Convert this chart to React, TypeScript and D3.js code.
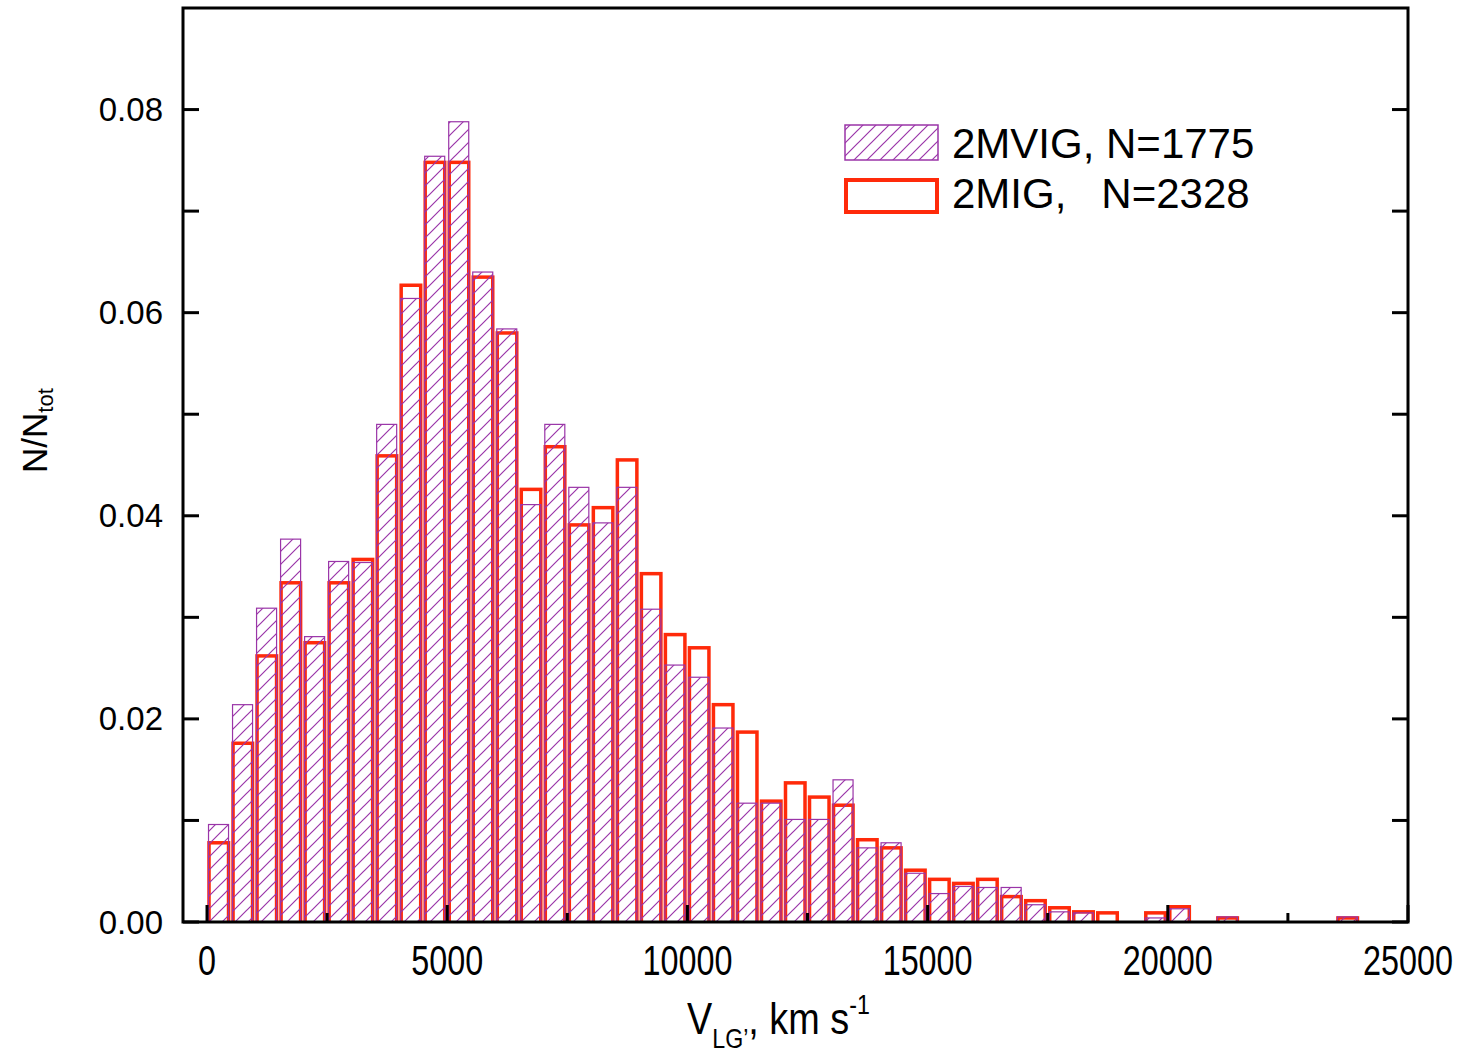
import React from 'react';
import * as d3 from 'd3';

// bin start velocities (km/s), bin width 500
const BIN_WIDTH = 500;
const binStarts = d3.range(0, 24000, 500);

// 2MVIG, N=1775 (hatched purple)
const mvig = [
  0.0096, 0.0214, 0.0309, 0.0377, 0.0281, 0.0355, 0.0354, 0.0490, 0.0614, 0.0754,
  0.0788, 0.0640, 0.0584, 0.0411, 0.0490, 0.0428, 0.0393, 0.0428, 0.0308, 0.0253,
  0.0241, 0.0191, 0.0117, 0.0117, 0.0101, 0.0101, 0.0140, 0.0073, 0.0078, 0.0048,
  0.0028, 0.0035, 0.0034, 0.0034, 0.0017, 0.0010, 0.0009, 0, 0, 0.0004,
  0.0013, 0, 0.0005, 0, 0, 0, 0, 0.0005,
];

// 2MIG, N=2328 (red open)
const mig = [
  0.0078, 0.0176, 0.0262, 0.0334, 0.0275, 0.0334, 0.0357, 0.0459, 0.0627, 0.0748,
  0.0748, 0.0635, 0.0580, 0.0426, 0.0468, 0.0391, 0.0408, 0.0455, 0.0343, 0.0283,
  0.0270, 0.0214, 0.0187, 0.0119, 0.0137, 0.0123, 0.0115, 0.0081, 0.0073, 0.0051,
  0.0042, 0.0038, 0.0042, 0.0025, 0.0021, 0.0014, 0.0010, 0.0009, 0, 0.0009,
  0.0015, 0, 0.0004, 0, 0, 0, 0, 0.0004,
];

const xMajorTicks = [0, 5000, 10000, 15000, 20000, 25000];
const xMinorTicks = [2500, 7500, 12500, 17500, 22500];
const yTicks = [0, 0.01, 0.02, 0.03, 0.04, 0.05, 0.06, 0.07, 0.08];
const yLabelTicks = [0, 0.02, 0.04, 0.06, 0.08];

const legendLabels = ['2MVIG, N=1775', '2MIG,   N=2328'];

const PURPLE = '#9a35a8';
const RED = '#ff2a0a';
const FONT = '"Liberation Sans", Arial, Helvetica, sans-serif';

export default function App() {
  const left = 183, right = 1408, top = 8, bottom = 922;
  const x = d3.scaleLinear().domain([-500, 25000]).range([left, right]);
  const y = d3.scaleLinear().domain([0, 0.09]).range([bottom, top]);
  const bw = x(BIN_WIDTH) - x(0);

  return (
    <div style={{ position: 'absolute', left: 0, top: 0 }}>
      <svg width={1463} height={1058} style={{ display: 'block', background: '#fff' }}>
        <defs>
          <pattern id="hatch" patternUnits="userSpaceOnUse" width={13} height={13}>
            <path d="M-2,2 L2,-2 M0,13 L13,0 M11,15 L15,11" stroke={PURPLE} strokeWidth={1.2} />
          </pattern>
          <clipPath id="plotclip">
            <rect x={left} y={top} width={right - left} height={bottom - top} />
          </clipPath>
        </defs>

        <g clipPath="url(#plotclip)">
          {/* red open bars */}
          {mig.map((v, i) =>
            v > 0 ? (
              <rect
                key={'r' + i}
                x={x(binStarts[i]) + 2}
                y={y(v)}
                width={bw - 4.5}
                height={y(0) - y(v) + 3}
                fill="none"
                stroke={RED}
                strokeWidth={3.5}
              />
            ) : null
          )}
          {/* purple hatched bars */}
          {mvig.map((v, i) =>
            v > 0 ? (
              <rect
                key={'p' + i}
                x={x(binStarts[i]) + 1.5}
                y={y(v)}
                width={bw - 4}
                height={y(0) - y(v)}
                fill="url(#hatch)"
                stroke={PURPLE}
                strokeWidth={1.2}
              />
            ) : null
          )}
        </g>

        {/* frame */}
        <rect x={left} y={top} width={right - left} height={bottom - top} fill="none" stroke="#000" strokeWidth={3} />

        {/* x ticks */}
        {xMajorTicks.map((t) => (
          <line key={'xM' + t} x1={x(t)} x2={x(t)} y1={bottom} y2={bottom - 17} stroke="#000" strokeWidth={3} />
        ))}
        {xMinorTicks.map((t) => (
          <line key={'xm' + t} x1={x(t)} x2={x(t)} y1={bottom} y2={bottom - 9} stroke="#000" strokeWidth={3} />
        ))}
        {xMajorTicks.map((t) => (
          <g key={'xl' + t} transform={`translate(${x(t)},975) scale(0.77,1)`}>
            <text textAnchor="middle" fontFamily={FONT} fontSize={42} fill="#000">
              {t}
            </text>
          </g>
        ))}

        {/* y ticks */}
        {yTicks.map((t) => (
          <g key={'y' + t}>
            <line x1={left} x2={left + 16} y1={y(t)} y2={y(t)} stroke="#000" strokeWidth={3} />
            <line x1={right} x2={right - 16} y1={y(t)} y2={y(t)} stroke="#000" strokeWidth={3} />
          </g>
        ))}
        {yLabelTicks.map((t) => (
          <text key={'yl' + t} x={163} y={y(t) + 11.5} textAnchor="end" fontFamily={FONT} fontSize={33} fill="#000">
            {d3.format('.2f')(t)}
          </text>
        ))}

        {/* x title */}
        <g transform="translate(687,1034) scale(0.86,1)">
          <text fontFamily={FONT} fontSize={44} fill="#000">
            V
            <tspan fontSize={27} dy={14}>LG’</tspan>
            <tspan dy={-14}>, km s</tspan>
            <tspan fontSize={27} dy={-20}>-1</tspan>
          </text>
        </g>

        {/* y title */}
        <g transform="translate(47,473) rotate(-90)">
          <text fontFamily={FONT} fontSize={35} fill="#000">
            N/N
            <tspan fontSize={22} dy={6}>tot</tspan>
          </text>
        </g>

        {/* legend */}
        <rect x={845} y={125} width={93} height={35} fill="url(#hatch)" stroke={PURPLE} strokeWidth={1.5} />
        <rect x={846} y={180} width={91} height={32} fill="none" stroke={RED} strokeWidth={4} />
        <text x={952} y={158} fontFamily={FONT} fontSize={42} fill="#000">
          {legendLabels[0]}
        </text>
        <text x={952} y={208} fontFamily={FONT} fontSize={42} fill="#000" style={{ whiteSpace: 'pre' }}>
          {legendLabels[1]}
        </text>
      </svg>
    </div>
  );
}
